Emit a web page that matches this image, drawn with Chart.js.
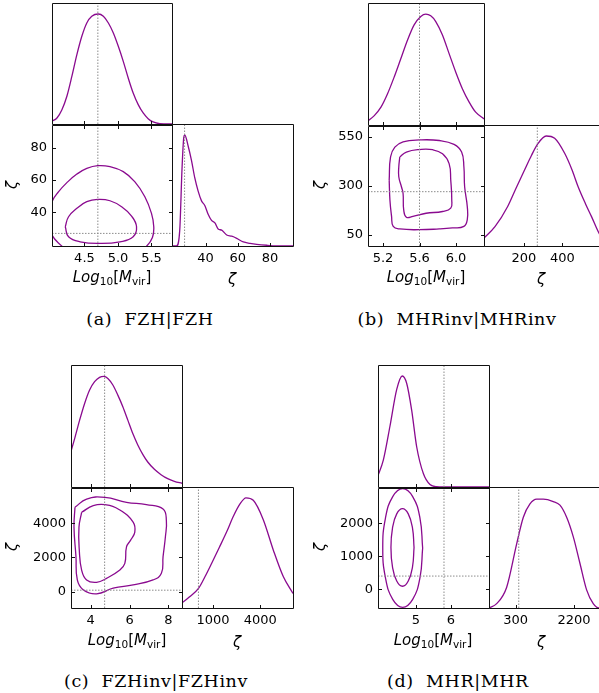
<!DOCTYPE html>
<html>
<head>
<meta charset="utf-8">
<script src="https://cdn.jsdelivr.net/npm/chart.js@4.4.1/dist/chart.umd.min.js"></script>
<style>
  html, body { margin: 0; padding: 0; background: #fff; }
  #page { position: relative; width: 599px; height: 693px; overflow: hidden; background: #fff; }
  #page canvas { position: absolute; }
  .lbl { position: absolute; transform: translate(-50%, -50%); white-space: nowrap;
         font-family: "DejaVu Sans"; font-size: 15px; color: #000; line-height: 1; }
  .lbl sub { font-size: 10.5px; vertical-align: -3px; font-style: normal; }
  .rot { transform: translate(-50%, -50%) rotate(-90deg); }
  .cap { position: absolute; transform: translate(-50%, -50%); white-space: nowrap;
         font-family: "DejaVu Serif"; font-size: 17.5px; letter-spacing: 0.6px; color: #000; }
</style>
</head>
<body>
<div id="page"></div>
<script>
// ---- (a) FZH|FZH ----
const aMassX = [4.01, 4.090, 4.164, 4.238, 4.313, 4.387, 4.461, 4.535, 4.609, 4.708, 4.782, 4.857, 4.931, 5.005, 5.079, 5.153, 5.227, 5.302, 5.376, 5.450, 5.524, 5.623, 5.81];
const aMassP = [0.022, 0.050, 0.118, 0.229, 0.395, 0.573, 0.725, 0.835, 0.890, 0.909, 0.890, 0.835, 0.752, 0.642, 0.518, 0.380, 0.256, 0.160, 0.091, 0.044, 0.017, 0.003, 0];
const aZetaX = [19.2, 22.0, 24.0, 25.4, 26.5, 27.1, 29.2, 31.3, 33.3, 35.4, 37.5, 39.6, 41.6, 43.7, 45.8, 47.8, 50.0, 53.1, 56.2, 59.3, 63.4, 67.6, 71.7, 78.0, 84.2, 94.3];
const aZetaP = [0, 0, 0.13, 0.63, 0.89, 0.91, 0.82, 0.70, 0.56, 0.45, 0.37, 0.33, 0.26, 0.21, 0.19, 0.14, 0.13, 0.09, 0.08, 0.063, 0.033, 0.022, 0.014, 0.006, 0.001, 0];
const aOuterM = [3.95, 4.016, 4.115, 4.238, 4.387, 4.535, 4.698, 4.881, 5.079, 5.25, 5.401, 5.500, 5.534, 5.514, 5.426, 5.25, 4.75, 4.3, 4.164, 4.016];
const aOuterZ = [36, 46.6, 52.8, 58.4, 63.7, 67.2, 68.9, 68.3, 65.2, 59.0, 49.7, 39.4, 31.1, 24.5, 19.1, 14, 11.5, 14, 19.1, 25.9];
const aInnerM = [4.214, 4.263, 4.387, 4.535, 4.698, 4.881, 5.054, 5.203, 5.277, 5.227, 5.030, 4.733, 4.436, 4.263];
const aInnerZ = [31.1, 37.3, 42.5, 46.6, 48.0, 47.2, 43.5, 37.7, 31.1, 24.9, 21.8, 20.8, 21.8, 24.9];
const aTruth = [4.70, 27];
const aMassRange = [4.016, 5.806];
const aZetaRange = [19.2, 94.2];
const aMassTicks = [4.5, 5.0, 5.5];
const aMassLabels = ['4.5', '5.0', '5.5'];
const aZetaTicks = [40, 60, 80];
const aZetaLabels = ['40', '60', '80'];

// ---- (b) MHRinv|MHRinv ----
const bMassX = [5.03, 5.105, 5.178, 5.250, 5.323, 5.396, 5.469, 5.541, 5.614, 5.669, 5.723, 5.778, 5.851, 5.923, 5.996, 6.069, 6.142, 6.215, 6.31];
const bMassP = [0.030, 0.077, 0.146, 0.256, 0.394, 0.545, 0.697, 0.821, 0.890, 0.909, 0.895, 0.848, 0.738, 0.587, 0.435, 0.298, 0.190, 0.105, 0.049];
const bZetaX = [-7, 50, 116, 160, 203, 240, 273, 316, 360, 412, 450, 482, 520, 551, 598, 606];
const bZetaP = [0.066, 0.16, 0.327, 0.48, 0.626, 0.75, 0.846, 0.909, 0.89, 0.766, 0.63, 0.49, 0.35, 0.245, 0.085, 0.075];
const bOuterM = [5.268, 5.283, 5.330, 5.420, 5.600, 5.816, 5.978, 6.061, 6.086, 6.094, 6.123, 6.123, 6.086, 5.960, 5.816, 5.600, 5.384, 5.312, 5.294, 5.276];
const bOuterZ = [329, 447, 497, 524, 534, 531, 511, 472, 396, 295, 194, 127, 93, 85, 80, 76, 80, 93, 144, 228];
const bInnerM = [5.384, 5.456, 5.600, 5.744, 5.852, 5.924, 5.942, 5.953, 5.942, 5.852, 5.672, 5.528, 5.456, 5.427, 5.420, 5.402, 5.373, 5.373];
const bInnerZ = [447, 472, 485, 484, 463, 413, 329, 228, 186, 169, 160, 144, 140, 177, 261, 295, 346, 396];
const bTruth = [5.6, 270];
const bMassRange = [5.036, 6.306];
const bZetaRange = [-7, 606];
const bMassTicks = [5.2, 5.6, 6.0];
const bMassLabels = ['5.2', '5.6', '6.0'];
const bZetaTicks = [50, 300, 550];
const bZetaLabels = ['50', '300', '550'];
const bZetaXTicks = [200, 400];
const bZetaXLabels = ['200', '400'];

// ---- (c) FZHinv|FZHinv ----
const cMassX = [2.98, 3.178, 3.434, 3.691, 3.947, 4.204, 4.460, 4.682, 4.887, 5.144, 5.400, 5.656, 5.913, 6.169, 6.426, 6.682, 6.938, 7.280, 7.622, 7.964, 8.306, 8.71];
const cMassP = [0.288, 0.397, 0.548, 0.685, 0.795, 0.863, 0.899, 0.907, 0.890, 0.836, 0.753, 0.658, 0.548, 0.438, 0.345, 0.268, 0.205, 0.145, 0.101, 0.068, 0.047, 0.030];
const cZetaX = [-962, -500, 96, 500, 919, 1400, 1869, 2300, 2711, 3091, 3553, 4187, 4820, 5453, 6070];
const cZetaP = [0.041, 0.09, 0.164, 0.26, 0.37, 0.50, 0.63, 0.76, 0.86, 0.91, 0.89, 0.73, 0.48, 0.26, 0.12];
const cOuterM = [3.195, 3.793, 4.733, 5.845, 6.870, 7.725, 7.896, 7.845, 7.725, 7.640, 7.212, 6.186, 5.160, 4.306, 3.622, 3.315, 3.246, 3.144];
const cOuterZ = [4929, 5413, 5509, 5219, 5084, 4833, 4157, 3190, 2031, 1065, 678, 388, 195, -133, 99, 678, 2031, 3770];
const cInnerM = [3.537, 4.135, 4.733, 5.503, 6.186, 6.272, 6.050, 5.845, 5.759, 5.503, 4.819, 4.306, 3.793, 3.537, 3.417, 3.400];
const cInnerZ = [4639, 5026, 5084, 4775, 4060, 3480, 2997, 2610, 1645, 1258, 775, 543, 678, 1258, 2417, 3770];
const cTruth = [4.72, 80];
const cMassRange = [2.99, 8.70];
const cZetaRange = [-962, 6070];
const cMassTicks = [4, 6, 8];
const cMassLabels = ['4', '6', '8'];
const cZetaTicks = [0, 2000, 4000];
const cZetaLabels = ['0', '2000', '4000'];
const cZetaXTicks = [1000, 4000];
const cZetaXLabels = ['1000', '4000'];

// ---- (d) MHR|MHR ----
const dMassX = [3.90, 4.066, 4.257, 4.449, 4.609, 4.733, 4.876, 5.019, 5.21, 5.40, 5.59, 6.0, 7.1];
const dMassP = [0.083, 0.22, 0.50, 0.80, 0.91, 0.85, 0.63, 0.33, 0.11, 0.02, 0.003, 0, 0];
const dZetaX = [-570, -320, 4, 332, 549, 765, 984, 1199, 1525, 1743, 1961, 2176, 2394, 2612, 2828, 3013, 3081];
const dZetaP = [0, 0.036, 0.17, 0.53, 0.75, 0.86, 0.90, 0.90, 0.88, 0.85, 0.75, 0.59, 0.37, 0.15, 0.036, 0, 0];
const dOuterM = [5.19, 5.114, 4.905, 4.62, 4.335, 4.126, 4.05, 4.126, 4.335, 4.62, 4.905, 5.114];
const dOuterZ = [1254, 2156, 2815, 3057, 2815, 2156, 1254, 352, -307, -549, -307, 352];
const dInnerM = [4.944, 4.90, 4.779, 4.614, 4.449, 4.328, 4.284, 4.328, 4.449, 4.614, 4.779, 4.90];
const dInnerZ = [1269, 1859, 2290, 2448, 2290, 1859, 1269, 680, 248, 90, 248, 680];
const dTruth = [5.8, 400];
const dMassRange = [3.914, 7.086];
const dZetaRange = [-570, 3081];
const dMassTicks = [5, 6];
const dMassLabels = ['5', '6'];
const dZetaTicks = [0, 1000, 2000];
const dZetaLabels = ['0', '1000', '2000'];
const dZetaXTicks = [300, 2200];
const dZetaXLabels = ['300', '2200'];

const PURPLE = '#8a0a8f';
const page = document.getElementById('page');
const L = 60, R = 30, T = 12, B = 30;

// box frame + inward ticks, like matplotlib's direction='in'
const frame = {
  id: 'frame',
  afterDatasetsDraw(chart, args, o) {
    const { ctx, chartArea: a, scales } = chart;
    const l = Math.round(a.left) + 0.5, t = Math.round(a.top) + 0.5;
    const r = Math.round(a.right) + 0.5, b = Math.round(a.bottom) + 0.5;
    ctx.save();
    ctx.strokeStyle = '#111';
    ctx.lineWidth = 1;
    ctx.beginPath();
    ctx.rect(l, t, r - l, b - t);
    const len = 3.5;
    scales.x.ticks.forEach(tk => {
      const px = Math.round(scales.x.getPixelForValue(tk.value)) + 0.5;
      if (o.xt.includes('b')) { ctx.moveTo(px, b); ctx.lineTo(px, b - len); }
      if (o.xt.includes('t')) { ctx.moveTo(px, t); ctx.lineTo(px, t + len); }
    });
    scales.y.ticks.forEach(tk => {
      const py = Math.round(scales.y.getPixelForValue(tk.value)) + 0.5;
      if (o.yt.includes('l')) { ctx.moveTo(l, py); ctx.lineTo(l + len, py); }
      if (o.yt.includes('r')) { ctx.moveTo(r, py); ctx.lineTo(r - len, py); }
    });
    ctx.stroke();
    ctx.restore();
  }
};

function pts(xs, ys, closed) {
  const p = xs.map((x, i) => ({ x, y: ys[i] }));
  if (closed) p.push(p[0]);
  return p;
}

function curve(xs, ys) {
  return { data: pts(xs, ys), borderColor: PURPLE, borderWidth: 1.3, cubicInterpolationMode: 'monotone' };
}
function loop(xs, ys) {
  return { data: pts(xs, ys, true), borderColor: PURPLE, borderWidth: 1.3, tension: 0.45 };
}
function vline(v, span) {
  return { data: [{ x: v, y: span[0] }, { x: v, y: span[1] }], borderColor: '#8c8c8c', borderWidth: 1, borderDash: [1.5, 1.5] };
}
function hline(v, span) {
  return { data: [{ x: span[0], y: v }, { x: span[1], y: v }], borderColor: '#8c8c8c', borderWidth: 1, borderDash: [1.5, 1.5] };
}

function axis(range, ticks, labels) {
  return {
    type: 'linear', min: range[0], max: range[1],
    afterBuildTicks: s => { s.ticks = ticks.map(v => ({ value: v })); },
    afterFit: s => { if (s.isHorizontal()) s.height = B; else s.width = L; },
    grid: { display: false, drawTicks: false },
    border: { display: false },
    ticks: {
      display: !!labels, padding: 5, autoSkip: false, maxRotation: 0,
      font: { family: 'DejaVu Sans', size: 13 }, color: '#000',
      callback: (v, i) => labels ? labels[i] : ''
    }
  };
}

function panel(box, datasets, x, y, fr) {
  const w = box[2] - box[0], h = box[3] - box[1];
  const c = document.createElement('canvas');
  c.width = L + w + R; c.height = T + h + B;
  c.style.left = (box[0] - L) + 'px';
  c.style.top = (box[1] - T) + 'px';
  page.appendChild(c);
  new Chart(c, {
    type: 'scatter',
    data: { datasets },
    options: {
      responsive: false, animation: false,
      layout: { autoPadding: false, padding: { left: 0, top: T, right: R, bottom: 0 } },
      elements: { point: { radius: 0 }, line: { fill: false } },
      datasets: { scatter: { showLine: true } },
      plugins: { legend: { display: false }, tooltip: { enabled: false }, frame: fr },
      scales: { x, y }
    },
    plugins: [frame]
  });
}

function corner(bx, s) {
  const [x0, x1, x2, y0, y1, y2] = bx;
  panel([x0, y0, x1, y1],
    [vline(s.truth[0], [0, 1]), curve(s.massX, s.massP)],
    axis(s.mRange, s.mTicks, null), axis([0, 1], [], null), { xt: 'b', yt: '' });
  panel([x0, y1, x1, y2],
    [vline(s.truth[0], s.zRange), hline(s.truth[1], s.mRange),
     loop(s.outerM, s.outerZ), loop(s.innerM, s.innerZ)],
    axis(s.mRange, s.mTicks, s.mLabels), axis(s.zRange, s.zTicks, s.zLabels), { xt: 'bt', yt: 'lr' });
  panel([x1, y1, x2, y2],
    [vline(s.truth[1], [0, 1]), curve(s.zetaX, s.zetaP)],
    axis(s.zRange, s.zxTicks, s.zxLabels), axis([0, 1], [], null), { xt: 'b', yt: '' });
}

function text(html, x, y, cls) {
  const d = document.createElement('div');
  d.className = cls;
  d.innerHTML = html;
  d.style.left = x + 'px';
  d.style.top = y + 'px';
  page.appendChild(d);
}

corner([52, 172, 293, 3, 124, 246], {
  massX: aMassX, massP: aMassP, zetaX: aZetaX, zetaP: aZetaP,
  outerM: aOuterM, outerZ: aOuterZ, innerM: aInnerM, innerZ: aInnerZ, truth: aTruth,
  mRange: aMassRange, zRange: aZetaRange, mTicks: aMassTicks, mLabels: aMassLabels,
  zTicks: aZetaTicks, zLabels: aZetaLabels, zxTicks: aZetaTicks, zxLabels: aZetaLabels
});
corner([368, 484, 602, 3, 125, 246], {
  massX: bMassX, massP: bMassP, zetaX: bZetaX, zetaP: bZetaP,
  outerM: bOuterM, outerZ: bOuterZ, innerM: bInnerM, innerZ: bInnerZ, truth: bTruth,
  mRange: bMassRange, zRange: bZetaRange, mTicks: bMassTicks, mLabels: bMassLabels,
  zTicks: bZetaTicks, zLabels: bZetaLabels, zxTicks: bZetaXTicks, zxLabels: bZetaXLabels
});
corner([71, 182, 293, 365, 487, 608], {
  massX: cMassX, massP: cMassP, zetaX: cZetaX, zetaP: cZetaP,
  outerM: cOuterM, outerZ: cOuterZ, innerM: cInnerM, innerZ: cInnerZ, truth: cTruth,
  mRange: cMassRange, zRange: cZetaRange, mTicks: cMassTicks, mLabels: cMassLabels,
  zTicks: cZetaTicks, zLabels: cZetaLabels, zxTicks: cZetaXTicks, zxLabels: cZetaXLabels
});
corner([378, 489, 601, 365, 487, 608], {
  massX: dMassX, massP: dMassP, zetaX: dZetaX, zetaP: dZetaP,
  outerM: dOuterM, outerZ: dOuterZ, innerM: dInnerM, innerZ: dInnerZ, truth: dTruth,
  mRange: dMassRange, zRange: dZetaRange, mTicks: dMassTicks, mLabels: dMassLabels,
  zTicks: dZetaTicks, zLabels: dZetaLabels, zxTicks: dZetaXTicks, zxLabels: dZetaXLabels
});

const MLABEL = '<i>Log</i><sub>10</sub>[<i>M</i><sub>vir</sub>]';
const ZLABEL = '<i>ζ</i>';
text(MLABEL, 112, 278, 'lbl'); text(ZLABEL, 232, 279, 'lbl'); text(ZLABEL, 12, 185, 'lbl rot');
text(MLABEL, 426, 278, 'lbl'); text(ZLABEL, 541, 279, 'lbl'); text(ZLABEL, 320, 185, 'lbl rot');
text(MLABEL, 127, 641, 'lbl'); text(ZLABEL, 237, 642, 'lbl'); text(ZLABEL, 12, 547, 'lbl rot');
text(MLABEL, 433, 641, 'lbl'); text(ZLABEL, 541, 642, 'lbl'); text(ZLABEL, 320, 547, 'lbl rot');

text('(a)&nbsp;&nbsp;FZH|FZH', 150, 319, 'cap');
text('(b)&nbsp;&nbsp;MHRinv|MHRinv', 457, 319, 'cap');
text('(c)&nbsp;&nbsp;FZHinv|FZHinv', 156, 681, 'cap');
text('(d)&nbsp;&nbsp;MHR|MHR', 458, 681, 'cap');
</script>
</body>
</html>
